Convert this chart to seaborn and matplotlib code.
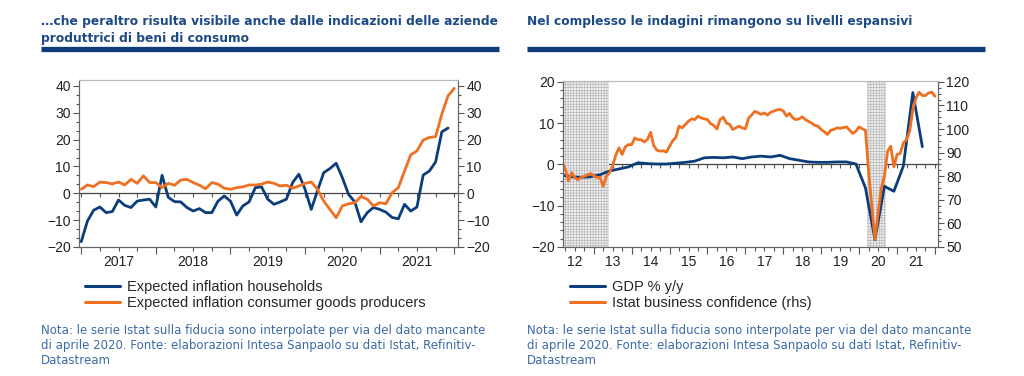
import numpy as np
import pandas as pd
import matplotlib
matplotlib.use("Agg")
import matplotlib.pyplot as plt
import seaborn as sns
from matplotlib.ticker import MultipleLocator, NullFormatter
from matplotlib.lines import Line2D

# left chart, monthly from Jan 2017
households = [-18, -10.3, -6.3, -5.1, -7.2, -6.8, -2.5, -4.5, -5.3, -2.9, -2.5, -2.2,
              -5.1, 6.7, -1.5, -3.1, -3.2, -5.3, -6.6, -5.7, -7.2, -7.2, -2.9, -1.0,
              -2.9, -8.1, -4.7, -3.2, 2.1, 2.4, -2.2, -4.1, -3.2, -2.2, 4.0, 7.1,
              1.5, -6.0, 1.0, 7.7, 9.2, 11.2, 5.8, -0.4, -3.2, -10.6, -7.2, -5.3,
              -6.0, -7.0, -9.0, -9.5, -4.1, -6.6, -5.1, 6.8, 8.3, 11.7, 22.9, 24.3]
producers = [1.5, 3.1, 2.5, 4.2, 4.0, 3.5, 4.2, 3.1, 5.2, 3.7, 6.5, 4.0,
             4.0, 2.1, 3.7, 3.0, 4.9, 5.2, 4.0, 3.0, 1.7, 4.0, 3.4, 1.9,
             1.5, 2.1, 2.4, 3.1, 3.1, 3.4, 4.2, 3.7, 2.7, 3.0, 1.9, 2.7,
             3.7, 4.2, 1.5, -2.9, -6.0, -9.1, -4.7, -3.9, -3.5, -1.2, -2.2, -4.7,
             -3.5, -3.9, 0.2, 2.1, 8.3, 14.3, 15.8, 19.8, 20.8, 21.1, 29.5, 36.3, 39.1]
left_labels = ["2017", "2018", "2019", "2020", "2021"]

# right chart: quarterly GDP from Q1 2012, monthly confidence from Feb 2012
gdp = [-2.6, -3.0, -3.1, -3.0, -2.5, -1.6, -1.1, -0.6, 0.4, 0.2, 0.1, 0.1,
       0.3, 0.5, 0.8, 1.6, 1.7, 1.6, 1.8, 1.4, 1.8, 2.0, 1.8, 2.2,
       1.4, 1.0, 0.6, 0.5, 0.5, 0.6, 0.6, 0.1, -5.7, -18.2, -5.3, -6.5,
       -0.4, 17.4, 4.3]
confidence = [86, 83, 78, 81.5, 79.5, 78.5, 79.5, 80, 80.5, 81.2, 80.2,
              79.5, 79.5, 75.7, 80, 81.5, 84.5, 89, 92, 89.2, 92.5, 93.4, 93.4,
              96.2, 95.5, 95.5, 94.5, 95.5, 98.6, 93, 91, 90.6, 90.8, 90.2, 92.7,
              95, 96.5, 101.2, 100.5, 101.9, 103.3, 104.3, 104, 105.4, 104.7, 104.3, 104,
              102.3, 101.5, 100, 104, 105, 102.5, 102, 99.8, 100.5, 101.2, 100.5, 100.1,
              104.5, 106, 107.5, 106.9, 106.2, 106.8, 105.9, 107.1, 107.6, 108.1, 108.3, 107.6,
              105.5, 106.6, 104.7, 104, 104.3, 105.2, 104, 103.2, 102.5, 101.5, 101.2, 99.8,
              98.8, 97.7, 99.5, 99.8, 100.5, 100.3, 100.6, 100.9, 99.5, 98.1, 99.1, 100.9,
              100.1, 99.5, 82, 67.5, 53.4, 64.4, 75, 80, 90.6, 92.7, 84, 89.2,
              89.6, 94.1, 95.5, 99.1, 108.3, 113.2, 115.6, 114.2, 114.2, 115.3, 115.6, 113.9]
recessions = [(2011.5, 2013.4), (2020.21, 2020.72)]
right_labels = ["12", "13", "14", "15", "16", "17", "18", "19", "20", "21"]

title_left = "…che peraltro risulta visibile anche dalle indicazioni delle aziende\nproduttrici di beni di consumo"
title_right = "Nel complesso le indagini rimangono su livelli espansivi"
note = ("Nota: le serie Istat sulla fiducia sono interpolate per via del dato mancante\n"
        "di aprile 2020. Fonte: elaborazioni Intesa Sanpaolo su dati Istat, Refinitiv-\n"
        "Datastream")

BLUE = "#0b3d7a"
ORANGE = "#f07021"
NAVY = "#1d4a85"
NOTE = "#3b6aa6"


def dec_year(start, n, freq, shift):
    d = pd.date_range(start, periods=n, freq=freq)
    return np.asarray(d.year + (d.month - 1 + shift) / 12)


sns.set_theme(style="ticks")
plt.rcParams["font.family"] = ["Liberation Sans", "DejaVu Sans"]
plt.rcParams["hatch.linewidth"] = 0.35

fig = plt.figure(figsize=(10.24, 3.76), dpi=100)


def style_axes(ax, axr, xlim, years, labels):
    ax.set_xlim(*xlim)
    ax.xaxis.set_major_locator(MultipleLocator(1))
    ax.xaxis.set_minor_locator(MultipleLocator(0.25))
    ax.xaxis.set_major_formatter(NullFormatter())
    ax.tick_params(axis="x", which="major", length=5, width=0.8, color="#555")
    ax.tick_params(axis="x", which="minor", length=3, width=0.8, color="#555")
    for a in (ax, axr):
        a.tick_params(axis="y", which="major", length=4, width=0.8, color="#555",
                      labelsize=10, pad=2, labelcolor="#222")
        a.tick_params(axis="y", which="minor", length=2.5, width=0.8, color="#555")
        for s in a.spines.values():
            s.set_visible(True)
            s.set_linewidth(0.8)
        a.spines["top"].set_color("#bbbbbb")
        a.spines["left"].set_color("#666666")
        a.spines["right"].set_color("#666666")
        a.spines["bottom"].set_color("#666666")
        a.set_xlabel("")
        a.set_ylabel("")
    # zero line with quarterly ticks
    zero = ax.secondary_xaxis(0, transform=ax.transData)
    zero.xaxis.set_major_locator(MultipleLocator(0.25))
    zero.xaxis.set_major_formatter(NullFormatter())
    zero.tick_params(length=3, width=0.8, color="#555")
    zero.spines["bottom"].set_color("#444444")
    zero.spines["bottom"].set_linewidth(0.9)
    # year labels centred in each year
    lab = ax.secondary_xaxis("bottom")
    lab.set_xticks(years, labels=labels)
    lab.tick_params(length=0, pad=6, labelsize=10, labelcolor="#222")
    lab.spines["bottom"].set_visible(False)


# ---- left chart ----
ax1 = fig.add_axes([79 / 1024, 1 - 247 / 376, 379 / 1024, 167 / 376])
sns.lineplot(x=dec_year("2017-01-01", len(households), "MS", 0), y=households,
             ax=ax1, color=BLUE, linewidth=2.0, legend=False)
ax1r = ax1.twinx()
sns.lineplot(x=dec_year("2017-01-01", len(producers), "MS", 0), y=producers,
             ax=ax1r, color=ORANGE, linewidth=2.0, legend=False)
for a in (ax1, ax1r):
    a.set_ylim(-20, 42.2)
    a.set_yticks([-20, -10, 0, 10, 20, 30, 40])
    a.yaxis.set_minor_locator(MultipleLocator(10 / 3))
style_axes(ax1, ax1r, (2016.97, 2022.05), [2017.5, 2018.5, 2019.5, 2020.5, 2021.5], left_labels)

# ---- right chart ----
ax2 = fig.add_axes([563 / 1024, 1 - 247 / 376, 375 / 1024, 166 / 376])
for a, b in recessions:
    ax2.axvspan(a, b, facecolor="#eeeeee", edgecolor="#a9a9a9", hatch="++++++", linewidth=0)
sns.lineplot(x=dec_year("2012-02-01", len(gdp), "3MS", 1), y=gdp,
             ax=ax2, color=BLUE, linewidth=2.0, legend=False)
ax2r = ax2.twinx()
sns.lineplot(x=dec_year("2012-02-01", len(confidence), "MS", 1), y=confidence,
             ax=ax2r, color=ORANGE, linewidth=2.0, legend=False)
ax2.set_ylim(-20, 20.2)
ax2.set_yticks([-20, -10, 0, 10, 20])
ax2.yaxis.set_minor_locator(MultipleLocator(2))
ax2r.set_ylim(50, 120.35)
ax2r.set_yticks([50, 60, 70, 80, 90, 100, 110, 120])
ax2r.yaxis.set_minor_locator(MultipleLocator(2.5))
style_axes(ax2, ax2r, (2012.19, 2022.08), [y + 0.5 for y in range(2012, 2022)], right_labels)

# ---- legends ----
def legend(x, labels):
    handles = [Line2D([], [], color=BLUE, lw=2.2), Line2D([], [], color=ORANGE, lw=2.2)]
    fig.legend(handles, labels, loc="upper left", bbox_to_anchor=(x / 1024, 1 - 280 / 376),
               frameon=False, fontsize=10.5, handlelength=2.4, handletextpad=0.45,
               labelspacing=0.12, borderpad=0, borderaxespad=0)


legend(85, ["Expected inflation households", "Expected inflation consumer goods producers"])
legend(570, ["GDP % y/y", "Istat business confidence (rhs)"])

# ---- titles, bars, notes ----
fig.text(41 / 1024, 1 - 15 / 376, title_left, ha="left", va="top", fontsize=8.8,
         fontweight="bold", color=NAVY, linespacing=1.4, family="DejaVu Sans")
fig.text(527 / 1024, 1 - 15 / 376, title_right, ha="left", va="top", fontsize=8.8,
         fontweight="bold", color=NAVY, family="DejaVu Sans")
for x0, x1 in ((41, 499), (527, 985)):
    fig.add_artist(Line2D([x0 / 1024, x1 / 1024], [1 - 49 / 376] * 2, lw=3.8,
                          color="#0d3c78", solid_capstyle="butt",
                          transform=fig.transFigure))
for x0 in (41, 527):
    fig.text(x0 / 1024, 1 - 324 / 376, note, ha="left", va="top", fontsize=8.5,
             color=NOTE, linespacing=1.2, family="DejaVu Sans")

fig.savefig("out.png", dpi=100)
